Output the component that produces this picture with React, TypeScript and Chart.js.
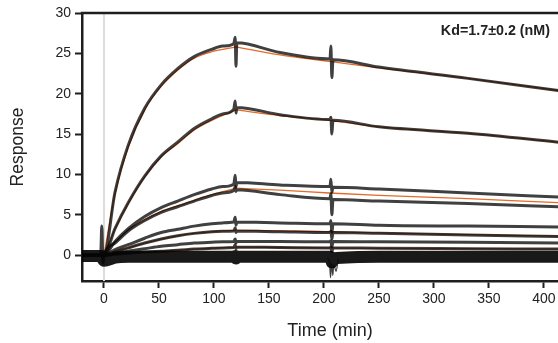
import React, { useEffect, useRef } from 'react';
import { Chart, registerables } from 'chart.js';

Chart.register(...registerables);

// Tick values
const X_TICKS = [0, 50, 100, 150, 200, 250, 300, 350, 400];
const Y_TICKS = [0, 5, 10, 15, 20, 25, 30];
const KD_LABEL = 'Kd=1.7±0.2 (nM)';

// Fitted curves (orange): association phase and dissociation phase
const ASSOC_T = [0, 10, 22, 37, 52, 67, 82, 98, 120];
const DISS_T = [120, 160, 205, 250, 331, 413];
const PRE_T = [-20, 0];
const FIT_PRE = [0, 0];
const FIT1_A = [0, 7.6, 13.4, 18.0, 20.9, 22.9, 24.4, 25.2, 25.8];
const FIT1_D = [25.8, 24.8, 24.0, 23.2, 21.9, 20.4];
const FIT2_A = [0, 3.2, 6.4, 9.7, 12.2, 13.8, 15.5, 16.7, 18.0];
const FIT2_D = [18.0, 17.3, 16.7, 15.9, 15.1, 14.0];
const FIT3_A = [0, 1.6, 3.1, 4.4, 5.4, 6.1, 6.8, 7.5, 8.3];
const FIT3_D = [8.3, 8.05, 7.7, 7.4, 7.0, 6.5];
const FIT4_A = [0, 0.45, 0.9, 1.5, 2.0, 2.4, 2.7, 2.9, 3.1];
const FIT4_D = [3.1, 3.0, 2.9, 2.75, 2.55, 2.35];
const FIT5_A = [0, 0.1, 0.25, 0.38, 0.5, 0.62, 0.74, 0.86, 1.0];
const FIT5_D = [1.0, 0.95, 0.9, 0.85, 0.8, 0.75];

// Measured traces (black)
const TRACE_T = [-20, -3, -2, -1, 0, 10, 22, 37, 52, 67, 82, 98, 108, 118, 119.3, 120, 120.8, 160, 205.5, 206.3, 207.2, 208.2, 250, 331, 413];
const TR1 = [0, 0, 0, 0, 0, 7.8, 13.6, 18.2, 21.1, 23.1, 24.6, 25.5, 25.9, 26.2, 27.0, 23.4, 26.3, 25.1, 24.3, 25.9, 22.0, 24.2, 23.3, 21.9, 20.4];
const TR2 = [0, 0, 0, 0, 0, 3.3, 6.5, 9.8, 12.3, 14.0, 15.7, 16.9, 17.5, 18.1, 19.1, 17.6, 18.3, 17.4, 16.8, 17.1, 15.0, 16.7, 15.9, 15.1, 14.0];
const TR3A = [0, 0, 0, 0, 0, 1.7, 3.3, 4.8, 5.9, 6.7, 7.5, 8.2, 8.5, 8.8, 9.9, 8.5, 9.0, 8.7, 8.5, 9.4, 7.8, 8.4, 8.2, 7.7, 7.2];
const TR3B = [0, 0, 3.6, -1.0, 0, 1.5, 3.0, 4.3, 5.3, 6.0, 6.7, 7.4, 7.7, 8.0, 8.5, 7.9, 8.1, 7.5, 7.0, 7.6, 5.0, 6.9, 6.7, 6.4, 6.0];
const TR4A = [0, 0, 0, 0, 0, 0.7, 1.3, 2.1, 2.8, 3.2, 3.6, 3.9, 4.0, 4.1, 4.7, 3.7, 4.1, 4.0, 3.9, 4.3, 2.8, 3.9, 3.7, 3.6, 3.5];
const TR4B = [0, 0, 0, 0, 0, 0.4, 0.9, 1.5, 2.0, 2.4, 2.7, 2.9, 2.95, 3.0, 3.4, 2.8, 3.0, 2.9, 2.8, 3.0, 2.0, 2.8, 2.7, 2.5, 2.3];
const TR4C = [0, 0, 0, 0, 0, 0.2, 0.5, 0.8, 1.1, 1.3, 1.5, 1.6, 1.65, 1.7, 2.0, 1.5, 1.7, 1.7, 1.65, 1.8, 1.0, 1.7, 1.65, 1.6, 1.5];
const TR5 = [0, 0, 0, 0, 0, 0.1, 0.25, 0.4, 0.5, 0.6, 0.75, 0.85, 0.9, 0.95, 1.3, 0.8, 1.0, 0.95, 0.9, 1.0, 0.4, 0.9, 0.85, 0.8, 0.75];
const BASE = [-0.1, -0.1, -0.1, -0.5, -0.7, -0.3, -0.2, -0.2, -0.2, -0.2, -0.2, -0.2, -0.2, -0.2, -0.1, -0.4, -0.2, -0.2, -0.2, -0.3, -0.9, -0.4, -0.2, -0.2, -0.2];
// Thin injection artefact below the baseline around t = 207
const DIP_T = [203, 205, 206, 207, 208, 209, 211, 213];
const DIP_V = [-0.4, -0.8, -2.8, -1.0, -2.5, -1.2, -2.0, -0.5];

const FONT = "'Liberation Sans', Arial, Helvetica, sans-serif";

export default function App() {
  const ref = useRef<HTMLCanvasElement>(null);

  useEffect(() => {
    if (!ref.current) return;
    const pts = (ts: number[], vs: number[]) => ts.map((t, i) => ({ x: t, y: vs[i] }));
    const trace = (ts: number[], vs: number[], w = 3, color = 'rgba(10,10,10,0.78)') => ({
      data: pts(ts, vs),
      borderColor: color,
      borderWidth: w,
      pointRadius: 0,
      cubicInterpolationMode: 'monotone' as const,
      fill: false,
    });
    const fit = (ts: number[], vs: number[]) => ({
      data: pts(ts, vs),
      borderColor: '#e56a28',
      borderWidth: 1.3,
      pointRadius: 0,
      cubicInterpolationMode: 'monotone' as const,
      fill: false,
    });

    const decor = {
      id: 'decor',
      beforeDatasetsDraw(chart: any) {
        const { ctx, chartArea, scales } = chart;
        const x0 = scales.x.getPixelForValue(0);
        ctx.save();
        ctx.strokeStyle = '#dcdcdc';
        ctx.lineWidth = 2;
        ctx.beginPath();
        ctx.moveTo(x0, chartArea.top);
        ctx.lineTo(x0, chartArea.bottom);
        ctx.stroke();
        ctx.restore();
      },
      afterDraw(chart: any) {
        const { ctx, chartArea } = chart;
        ctx.save();
        ctx.strokeStyle = '#1e1e1e';
        ctx.lineWidth = 2.5;
        ctx.beginPath();
        ctx.moveTo(chartArea.left - 1.25, chartArea.top);
        ctx.lineTo(chartArea.right, chartArea.top);
        ctx.stroke();
        ctx.fillStyle = '#222';
        ctx.font = `bold 14.3px ${FONT}`;
        ctx.textAlign = 'right';
        ctx.textBaseline = 'middle';
        ctx.fillText(KD_LABEL, chartArea.right - 28, chartArea.top + 18.5);
        ctx.restore();
      },
    };

    const chart = new Chart(ref.current, {
      type: 'line',
      data: {
        datasets: [
          trace(TRACE_T, BASE, 12, 'rgba(5,5,5,0.92)'),
          trace(DIP_T, DIP_V, 1.2),
          trace(TRACE_T, TR5),
          trace(TRACE_T, TR4C),
          trace(TRACE_T, TR4B),
          trace(TRACE_T, TR4A),
          trace(TRACE_T, TR3B),
          trace(TRACE_T, TR3A),
          trace(TRACE_T, TR2),
          trace(TRACE_T, TR1),
          fit(PRE_T, FIT_PRE),
          fit(ASSOC_T, FIT5_A), fit(DISS_T, FIT5_D),
          fit(ASSOC_T, FIT4_A), fit(DISS_T, FIT4_D),
          fit(ASSOC_T, FIT3_A), fit(DISS_T, FIT3_D),
          fit(ASSOC_T, FIT2_A), fit(DISS_T, FIT2_D),
          fit(ASSOC_T, FIT1_A), fit(DISS_T, FIT1_D),
        ] as any,
      },
      options: {
        animation: false,
        responsive: true,
        maintainAspectRatio: false,
        layout: { padding: { top: 13, right: 0, left: 0, bottom: 0 } },
        plugins: { legend: { display: false }, tooltip: { enabled: false } },
        scales: {
          x: {
            type: 'linear',
            min: -20,
            max: 431,
            afterFit: (s: any) => { s.height = 62; },
            afterBuildTicks: (s: any) => { s.ticks = X_TICKS.map((v) => ({ value: v })); },
            ticks: { includeBounds: false, padding: 3, color: '#222', font: { family: FONT, size: 14 } },
            border: { display: true, color: '#1e1e1e', width: 2.5 },
            grid: { drawOnChartArea: false, drawTicks: true, tickLength: 7, tickWidth: 2, tickColor: '#1e1e1e', color: '#1e1e1e' },
            title: { display: true, text: 'Time (min)', color: '#222', font: { family: FONT, size: 18 }, padding: { top: 0, bottom: 1 } },
          },
          y: {
            type: 'linear',
            min: -3.2,
            max: 30,
            afterFit: (s: any) => { s.width = 82; },
            afterBuildTicks: (s: any) => { s.ticks = Y_TICKS.map((v) => ({ value: v })); },
            ticks: { includeBounds: false, padding: 4, color: '#222', font: { family: FONT, size: 14 } },
            border: { display: true, color: '#1e1e1e', width: 2.5 },
            grid: { drawOnChartArea: false, drawTicks: true, tickLength: 7, tickWidth: 2, tickColor: '#1e1e1e', color: '#1e1e1e' },
            title: { display: true, text: 'Response', color: '#222', font: { family: FONT, size: 17.5 }, padding: { top: 8, bottom: 0 } },
          },
        },
      },
      plugins: [decor],
    });
    return () => chart.destroy();
  }, []);

  return (
    <div style={{ position: 'fixed', left: 0, top: 0, width: 558, height: 343, overflow: 'hidden', background: '#fff' }}>
      <div style={{ position: 'relative', width: 578, height: 343 }}>
        <canvas ref={ref} />
      </div>
    </div>
  );
}
